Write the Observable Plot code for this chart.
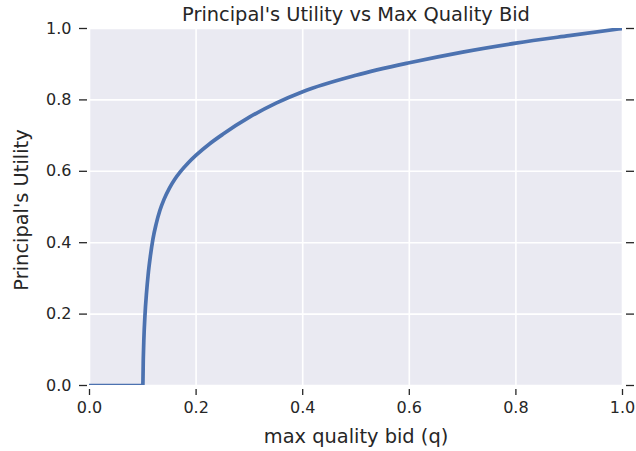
<!DOCTYPE html>
<html>
<head>
<meta charset="utf-8">
<script src="https://cdn.jsdelivr.net/npm/d3@7"></script>
<script src="https://cdn.jsdelivr.net/npm/@observablehq/plot@0.6"></script>
<style>
  html, body { margin: 0; padding: 0; background: #fff; }
  #chart svg { display: block; }
</style>
</head>
<body>
<div id="chart"></div>
<script>
const title = "Principal's Utility vs Max Quality Bid";
const xLabel = "max quality bid (q)";
const yLabel = "Principal's Utility";
const xTicks = [0, 0.2, 0.4, 0.6, 0.8, 1.0];
const yTicks = [0, 0.2, 0.4, 0.6, 0.8, 1.0];
const qValues = [0, 0.1, 0.101, 0.102, 0.104, 0.107, 0.11, 0.114, 0.119, 0.125, 0.132, 0.14, 0.15, 0.16, 0.171, 0.185, 0.2, 0.225, 0.25, 0.3, 0.35, 0.4, 0.5, 0.6, 0.7, 0.8, 0.9, 1.0];
const uValues = [0, 0, 0.08, 0.13, 0.195, 0.26, 0.31, 0.36, 0.41, 0.452, 0.49, 0.522, 0.553, 0.578, 0.6, 0.6235, 0.6453, 0.6766, 0.7036, 0.7515, 0.791, 0.823, 0.869, 0.904, 0.934, 0.959, 0.98, 1.0];

const data = qValues.map((q, i) => ({q, u: uValues[i]}));
const ink = "#262626";

const chart = Plot.plot({
  width: 636,
  height: 451,
  marginLeft: 89,
  marginRight: 14,
  marginTop: 28,
  marginBottom: 66,
  style: {fontFamily: "DejaVu Sans", background: "transparent", color: ink},
  x: {domain: [0, 1]},
  y: {domain: [0, 1]},
  marks: [
    Plot.frame({fill: "#EAEAF2", stroke: null}),
    Plot.gridX(xTicks, {stroke: "#fff", strokeOpacity: 1, strokeWidth: 1.6}),
    Plot.gridY(yTicks, {stroke: "#fff", strokeOpacity: 1, strokeWidth: 1.6}),
    Plot.line(data, {x: "q", y: "u", stroke: "#4C72B0", strokeWidth: 3.7, curve: "monotone-x", clip: true}),
    Plot.axisX({ticks: xTicks, tickFormat: d3.format(".1f"), tickSize: 6, tickPadding: 6, dy: 4, fontSize: 16, stroke: ink, strokeWidth: 1.3, label: null, fill: ink}),
    Plot.axisY({anchor: "left", ticks: yTicks, tickFormat: d3.format(".1f"), tickSize: 8, tickPadding: 8, dx: -2, fontSize: 16, stroke: ink, strokeWidth: 1.3, label: null, fill: ink}),
    Plot.axisY({anchor: "right", ticks: yTicks, tickFormat: () => "", tickSize: 8, dx: 3, stroke: ink, strokeWidth: 1.3, label: null}),
    Plot.text([title], {frameAnchor: "top", lineAnchor: "bottom", dy: -8, fontSize: 19.4, fill: ink}),
    Plot.text([xLabel], {frameAnchor: "bottom", lineAnchor: "bottom", dy: 57, fontSize: 19.4, fill: ink}),
    Plot.text([yLabel], {frameAnchor: "left", textAnchor: "middle", lineAnchor: "bottom", rotate: -90, dx: -61.5, dy: 3, fontSize: 19.4, fill: ink})
  ]
});
document.getElementById("chart").appendChild(chart);
</script>
</body>
</html>
